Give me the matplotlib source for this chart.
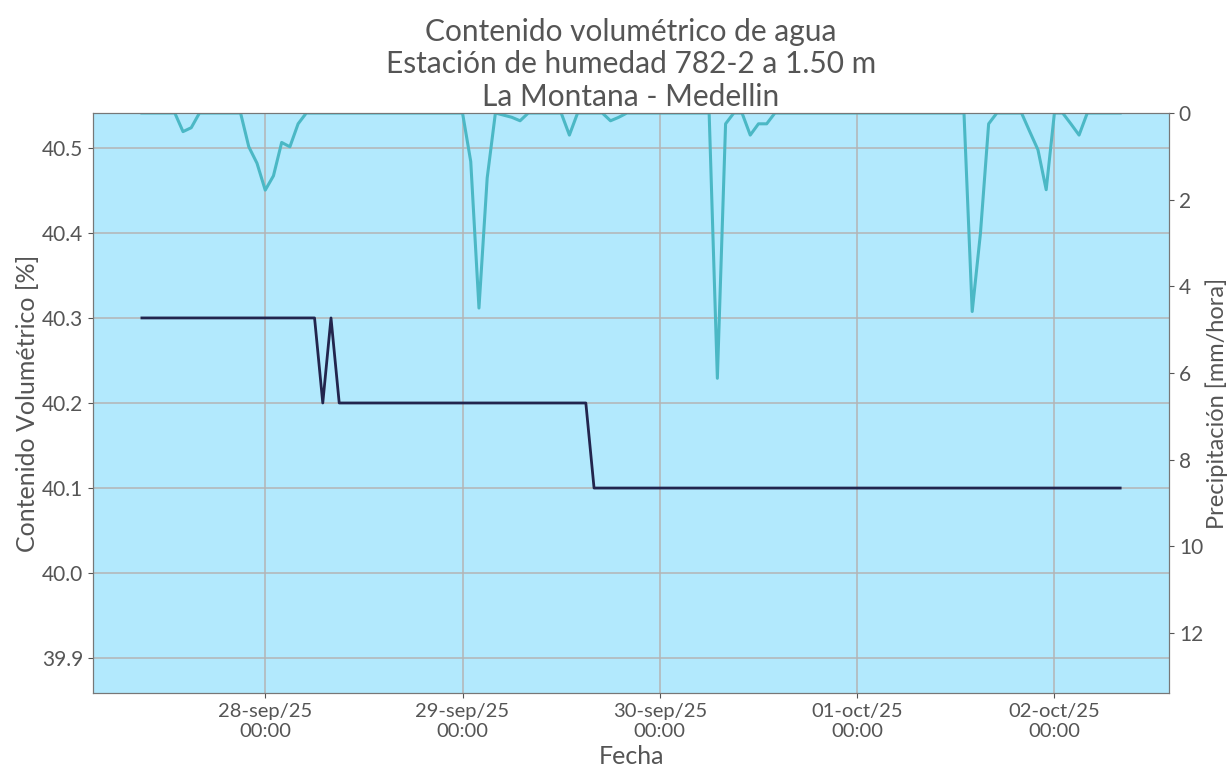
import numpy as np
import pandas as pd
import matplotlib
matplotlib.use("Agg")
import matplotlib.pyplot as plt
import matplotlib.dates as mdates

plt.rcParams["font.family"] = ["Lato", "DejaVu Sans"]

# hourly series, 27-sep-2025 09:00 .. 02-oct-2025 08:00
fechas = pd.date_range("2025-09-27 09:00", periods=120, freq="h")

# volumetric water content [%]: (first hour index, value) steps
vwc_steps = [(0, 40.3), (22, 40.2), (23, 40.3), (24, 40.2), (55, 40.1)]

# hourly rain [mm/hora], only non-zero hours listed
lluvia_horas = [5, 6, 13, 14, 15, 16, 17, 18, 19, 40, 41, 42, 44, 45, 46,
                52, 57, 58, 70, 71, 74, 75, 76, 101, 102, 103, 108, 109, 110,
                113, 114]
lluvia_mm = [0.43, 0.34, 0.78, 1.16, 1.78, 1.45, 0.68, 0.78, 0.25, 1.12, 4.5, 1.5,
             0.05, 0.1, 0.18, 0.51, 0.18, 0.1, 6.12, 0.25, 0.51, 0.25, 0.25,
             4.58, 2.78, 0.25, 0.43, 0.85, 1.77, 0.25, 0.51]

vwc = np.empty(len(fechas))
for k, (i0, v) in enumerate(vwc_steps):
    i1 = vwc_steps[k + 1][0] if k + 1 < len(vwc_steps) else len(fechas)
    vwc[i0:i1] = v
lluvia = np.zeros(len(fechas))
lluvia[lluvia_horas] = lluvia_mm

gris = "#555555"
fig = plt.figure(figsize=(12.27, 7.77), dpi=100)
ax = fig.add_axes([0.0758, 0.1081, 0.877, 0.7465])
ax.set_facecolor("#b2e9fd")
ax.plot(fechas, vwc, color="#22254d", lw=2.0, zorder=3)
ax.set_ylim(39.859, 40.541)
ax.set_yticks([39.9, 40.0, 40.1, 40.2, 40.3, 40.4, 40.5])
ax.yaxis.set_major_formatter(matplotlib.ticker.FormatStrFormatter("%.1f"))
ax.grid(True, color="#b4b4b4", lw=1.1)
ax.set_axisbelow(True)

ax.xaxis.set_major_locator(mdates.DayLocator())
meses = {9: "sep", 10: "oct"}
ax.xaxis.set_major_formatter(matplotlib.ticker.FuncFormatter(
    lambda x, _: (lambda d: f"{d.day:02d}-{meses[d.month]}/{d:%y}\n00:00")(mdates.num2date(x))))

ax2 = ax.twinx()
ax2.plot(fechas, lluvia, color="#4bb8c5", lw=2.2, zorder=2)
ax2.set_ylim(13.38, 0)
ax2.set_yticks(range(0, 13, 2))

for a in (ax, ax2):
    a.tick_params(labelsize=15, colors=gris, labelcolor=gris)
    for s in a.spines.values():
        s.set_color("#777777")
ax.tick_params(axis="x", labelsize=14.5)
ax.margins(x=0.05)

ax.set_xlabel("Fecha", fontsize=18, color=gris, labelpad=4)
ax.set_ylabel("Contenido Volumétrico [%]", fontsize=18, color=gris, labelpad=2)
ax2.set_ylabel("Precipitación [mm/hora]", fontsize=17, color=gris, labelpad=2)
ax.set_title("Contenido volumétrico de agua\nEstación de humedad 782-2 a 1.50 m\nLa Montana - Medellin",
             fontsize=21.5, color=gris, linespacing=1.2, pad=5)

fig.savefig("out.png", dpi=100)
